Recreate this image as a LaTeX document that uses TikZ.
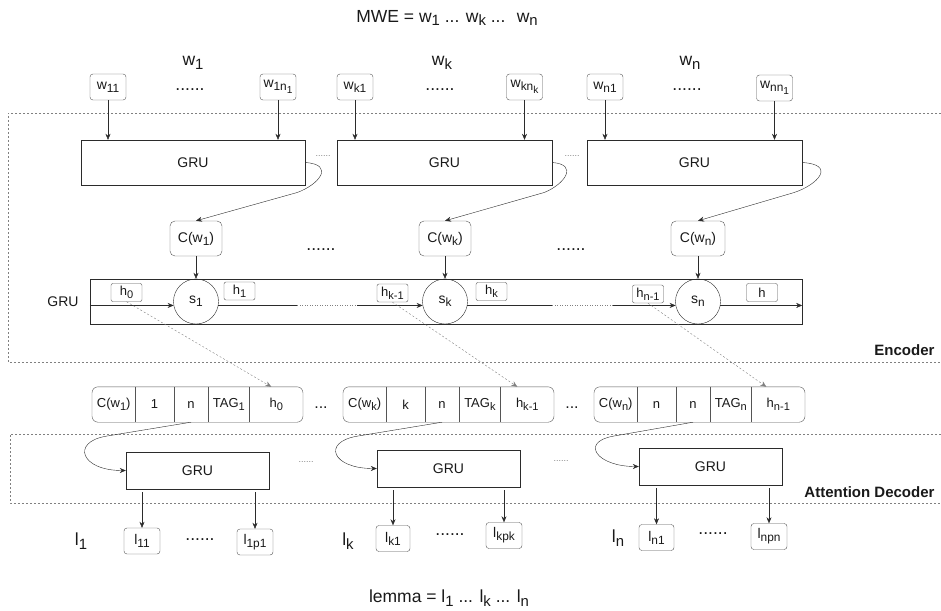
\documentclass[tikz,border=0pt]{standalone}
\usepackage{fontspec}
\setmainfont{Liberation Sans}
\usetikzlibrary{arrows.meta}
\usetikzlibrary{positioning}
\usetikzlibrary{fit}
\definecolor{boxgray}{HTML}{555555}
\definecolor{linegray}{HTML}{2B2B2B}
\tikzstyle{every node}=[font=\fontsize{14}{16}\selectfont, text=black!90]
\tikzstyle{biglabel}=[font=\fontsize{17.5}{20}\selectfont]
\tikzstyle{wordbox}=[draw=boxgray, rounded corners=3pt, minimum width=36pt, minimum height=26pt, inner sep=1pt]
\tikzstyle{grubox}=[draw=linegray, minimum height=45pt, inner sep=0pt]
\tikzstyle{decbox}=[draw=linegray, minimum width=143pt, minimum height=37pt, inner sep=0pt]
\tikzstyle{ctxbox}=[draw=boxgray, rounded corners=5pt, minimum width=52pt, minimum height=35pt, inner sep=0pt]
\tikzstyle{statenode}=[draw=linegray, circle, minimum size=45pt, inner sep=0pt]
\tikzstyle{hbox}=[draw=boxgray, rounded corners=2pt, minimum width=31pt, minimum height=18pt, inner sep=0pt, font=\fontsize{13}{15}\selectfont]
\tikzstyle{tuplecell}=[minimum height=35pt, inner sep=0pt, font=\fontsize{13}{15}\selectfont]
\tikzstyle{tuplebox}=[draw=boxgray, rounded corners=6pt, inner sep=0pt]
\tikzstyle{flowarrow}=[-{Stealth[length=6pt,width=5pt]}, draw=linegray]
\tikzstyle{attnarrow}=[-{Stealth[length=6pt,width=5pt]}, draw=gray, dash pattern=on 2pt off 2pt]
\tikzstyle{regionline}=[draw=gray, dash pattern=on 2pt off 2pt]
\tikzstyle{gapline}=[draw=gray, dash pattern=on 1pt off 1.5pt]
\tikzstyle{smalldots}=[font=\fontsize{9}{10}\selectfont, text=gray]
\tikzstyle{partlabel}=[font=\bfseries\fontsize{15}{17}\selectfont, anchor=east]
\newcommand{\newtuple}[7]{% #1 name, #2 left x, #3..#7 cell texts
  \node[tuplecell, minimum width=43pt, anchor=west] (#1a) at (#2,404.5) {#3};
  \node[tuplecell, minimum width=38pt, right=0pt of #1a] (#1b) {#4};
  \node[tuplecell, minimum width=34pt, right=0pt of #1b] (#1c) {#5};
  \node[tuplecell, minimum width=41pt, right=0pt of #1c] (#1d) {#6};
  \node[tuplecell, minimum width=53pt, right=0pt of #1d] (#1e) {#7};
  \node[tuplebox, fit=(#1a)(#1e)] (#1) {};
  \foreach \c in {a,b,c,d} \draw[boxgray] (#1\c.north east) -- (#1\c.south east);
}
\newcommand{\sub}[1]{\raisebox{-0.22em}{\scalebox{0.85}{#1}}} % draw.io style subscript

\begin{document}
\begin{tikzpicture}[x=1pt,y=-1pt]
\useasboundingbox (0,0) rectangle (941,610);
% regions
\draw[regionline] (941,113) -- (8,113) -- (8,362) -- (941,362);
\draw[regionline] (941,434) -- (10,434) -- (10,503) -- (941,503);
\node[partlabel] (enclabel) at (938,350) {Encoder};
\node[partlabel] (declabel) at (938,492) {Attention Decoder};

\node[biglabel] (title) at (447,18) {MWE = w\sub{1} ... w\sub{k} ...~ w\sub{n}};
\node[biglabel] (lw1) at (193,63) {w\sub{1}};
\node[biglabel] (lwk) at (442,63) {w\sub{k}};
\node[biglabel] (lwn) at (690,63) {w\sub{n}};

% input characters
\node[wordbox] (x11) at (108,87) {w\sub{11}};
\node[wordbox] (x1n) at (278,87) {w\sub{1n\sub{1}}};
\node[wordbox] (xk1) at (355,87) {w\sub{k1}};
\node[wordbox] (xkn) at (524.5,87) {w\sub{kn\sub{k}}};
\node[wordbox] (xn1) at (605,87) {w\sub{n1}};
\node[wordbox] (xnn) at (774.5,88) {w\sub{nn\sub{1}}};
\node[biglabel] (dx1) at (190,90) {......};
\node[biglabel] (dxk) at (440,90) {......};
\node[biglabel] (dxn) at (687,90) {......};

% character level GRU
\node[grubox, minimum width=224pt] (enc1) at (193,162.5) {GRU};
\node[grubox, minimum width=215pt] (enc2) at (444.5,162.5) {GRU};
\node[grubox, minimum width=215pt] (enc3) at (694.5,162.5) {GRU};
\node[smalldots] (denc1) at (323,156) {......};
\node[smalldots] (denc2) at (572,156) {......};
\foreach \w/\g in {x11/enc1, x1n/enc1, xk1/enc2, xkn/enc2, xn1/enc3, xnn/enc3}
  \draw[flowarrow] (\w.south) -- (\w.south |- \g.north);

\node[ctxbox] (cw1) at (196,238.5) {C(w\sub{1})};
\node[ctxbox] (cwk) at (445,238.5) {C(w\sub{k})};
\node[ctxbox, minimum width=54pt] (cwn) at (698,238.5) {C(w\sub{n})};
\node[biglabel] (dc1) at (321,250) {......};
\node[biglabel] (dc2) at (571,250) {......};
\draw[flowarrow] (enc1.east) .. controls +(30,2) and +(22,-8) .. ++(-8,30) -- (cw1.north);
\draw[flowarrow] (enc2.east) .. controls +(27,2) and +(20,-8) .. ++(-8,30) -- (cwk.north);
\draw[flowarrow] (enc3.east) .. controls +(34,2) and +(24,-8) .. ++(-8,30) -- (cwn.north);

% word level GRU
\node[draw=linegray, minimum width=712pt, minimum height=45pt, inner sep=0pt] (encbar) at (446,301.5) {};
\node (grulabel) at (63,302) {GRU};
\node[statenode] (s1) at (196,301.5) {s\sub{1}};
\node[statenode] (sk) at (445,301.5) {s\sub{k}};
\node[statenode] (sn) at (698,301.5) {s\sub{n}};
\foreach \c/\s in {cw1/s1, cwk/sk, cwn/sn}
  \draw[flowarrow] (\c.south) -- (\s.north);
\node[hbox] (h0) at (126.5,292.5) {h\sub{0}};
\node[hbox] (h1) at (239.5,291) {h\sub{1}};
\node[hbox] (hk1) at (392.5,293) {h\sub{k-1}};
\node[hbox] (hk) at (491.5,291.5) {h\sub{k}};
\node[hbox] (hn1) at (648,294) {h\sub{n-1}};
\node[hbox] (hlast) at (762,292.5) {h};
\draw[flowarrow] (encbar.west |- s1.190) -- (s1.190);
\draw[linegray] (s1.-10) -- ++(79,0) coordinate (gap1a);
\draw[gapline] (gap1a) -- ++(60,0) coordinate (gap1b);
\draw[flowarrow] (gap1b) -- (sk.190);
\draw[linegray] (sk.-10) -- ++(85,0) coordinate (gap2a);
\draw[gapline] (gap2a) -- ++(61,0) coordinate (gap2b);
\draw[flowarrow] (gap2b) -- (sn.190);
\draw[flowarrow] (sn.-10) -- (encbar.east |- sn.-10);

% decoder inputs
\newtuple{t1}{92}{C(w\sub{1})}{1}{n}{TAG\sub{1}}{h\sub{0}}
\newtuple{t2}{343}{C(w\sub{k})}{k}{n}{TAG\sub{k}}{h\sub{k-1}}
\newtuple{t3}{594}{C(w\sub{n})}{n}{n}{TAG\sub{n}}{h\sub{n-1}}
\node[font=\fontsize{16}{18}\selectfont] (dt1) at (321,408) {...};
\node[font=\fontsize{16}{18}\selectfont] (dt2) at (572,408) {...};
\draw[attnarrow] (h0.south) -- ([xshift=-5pt]t1e.north);
\draw[attnarrow] (hk1.south) -- ([xshift=-10pt]t2e.north);
\draw[attnarrow] (hn1.south) -- ([xshift=-12pt]t3e.north);

% attention decoder
\node[decbox] (dec1) at (197.5,470.5) {GRU};
\node[decbox] (dec2) at (448.5,468.5) {GRU};
\node[decbox] (dec3) at (710.5,466.5) {GRU};
\node[smalldots] (ddec1) at (306,462) {......};
\node[smalldots] (ddec2) at (561,461) {......};
\draw[flowarrow] (t1c.south) -- ++(-85,14) .. controls +(-35,6) and +(-45,0) .. (dec1.west);
\draw[flowarrow] (t2c.south) -- ++(-85,14) .. controls +(-35,6) and +(-45,0) .. (dec2.west);
\draw[flowarrow] (t3c.south) -- ++(-80,14) .. controls +(-33,6) and +(-42,0) .. (dec3.west);

% lemma characters
\node[wordbox] (o11) at (142,541) {l\sub{11}};
\node[wordbox] (o1p) at (255,542) {l\sub{1p1}};
\node[wordbox, minimum width=34pt] (ok1) at (393,538.5) {l\sub{k1}};
\node[wordbox] (okp) at (504,535.5) {l\sub{kpk}};
\node[wordbox, minimum width=35pt] (on1) at (656.5,537.5) {l\sub{n1}};
\node[wordbox] (onp) at (769,536.5) {l\sub{npn}};
\foreach \g/\o in {dec1/o11, dec1/o1p, dec2/ok1, dec2/okp, dec3/on1, dec3/onp}
  \draw[flowarrow, shorten <=3pt] (\g.south -| \o.north) -- (\o.north);
\node[biglabel] (ll1) at (81,541) {l\sub{1}};
\node[biglabel] (llk) at (348,541) {l\sub{k}};
\node[biglabel] (lln) at (618,538) {l\sub{n}};
\node[biglabel] (do1) at (200,540) {......};
\node[biglabel] (dok) at (450,535) {......};
\node[biglabel] (don) at (713,534) {......};

\node[biglabel] (lemma) at (449,598) {lemma = l\sub{1} ... l\sub{k} ... l\sub{n}};
\end{tikzpicture}
\end{document}
